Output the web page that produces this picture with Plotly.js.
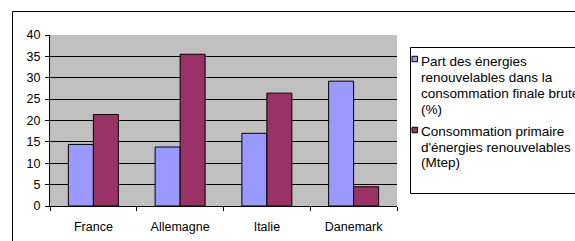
<!DOCTYPE html>
<html>
<head>
<meta charset="utf-8">
<script src="https://cdn.plot.ly/plotly-3.0.1.min.js"></script>
<style>html,body{margin:0;padding:0;background:#fff;}#chart{width:575px;height:241px;}</style>
</head>
<body>
<div id="chart"></div>
<script>
const categories = ["France", "Allemagne", "Italie", "Danemark"];
const partRenouvelables = [14.4, 13.8, 17.0, 29.2];
const consoPrimaire = [21.4, 35.5, 26.4, 4.5];
const seriesNames = ["Part des énergies renouvelables dans la consommation finale brute (%)",
                     "Consommation primaire d'énergies renouvelables (Mtep)"];
const legendLines = [
  ["Part des énergies", "renouvelables dans la", "consommation finale brute", "(%)"],
  ["Consommation primaire", "d'énergies renouvelables", "(Mtep)"]
];
const yTicks = [0, 5, 10, 15, 20, 25, 30, 35, 40];
const colors = ["#9999FF", "#993366"];

const W = 575, H = 241;
const M = {l: 50, r: 178, t: 35, b: 35};
const PW = W - M.l - M.r, PH = H - M.t - M.b;
const px = x => (x - M.l) / PW;
const py = y => (H - M.b - y) / PH;
const font = "Liberation Sans, Arial, sans-serif";

const traces = [partRenouvelables, consoPrimaire].map((vals, i) => ({
  type: "bar", x: categories, y: vals, name: seriesNames[i],
  marker: {color: colors[i], line: {color: "#000", width: 1}},
  hoverinfo: "none"
}));

const shapes = [
  // outer chart border
  {type: "rect", xref: "paper", yref: "paper", x0: px(12.5), x1: px(640), y0: py(11.5), y1: py(280),
   line: {color: "#000", width: 1}, fillcolor: "rgba(0,0,0,0)"},
  // legend box
  {type: "rect", xref: "paper", yref: "paper", x0: px(410.5), x1: px(640), y0: py(47.5), y1: py(193.5),
   line: {color: "#000", width: 1}, fillcolor: "rgba(0,0,0,0)"}
];
const annotations = [];
const lineY = [[61, 77, 93, 109], [131, 147, 162.5]];
const squareY = [59, 130];
legendLines.forEach((lines, i) => {
  shapes.push({type: "rect", xref: "paper", yref: "paper",
    x0: px(412), x1: px(417.5), y0: py(squareY[i] - 2.75), y1: py(squareY[i] + 2.75),
    line: {color: "#000", width: 1}, fillcolor: colors[i]});
  lines.forEach((t, j) => {
    annotations.push({xref: "paper", yref: "paper", x: px(419), y: py(lineY[i][j]),
      xanchor: "left", yanchor: "middle", text: t, showarrow: false,
      font: {family: font, size: 13.5, color: "#000"}});
  });
});

const layout = {
  width: W, height: H,
  margin: M,
  paper_bgcolor: "#fff",
  plot_bgcolor: "#C0C0C0",
  showlegend: false,
  barmode: "group",
  bargap: 0.424,
  bargroupgap: 0,
  font: {family: font, size: 12, color: "#000"},
  xaxis: {
    type: "category",
    showline: true, linecolor: "#000", linewidth: 1,
    ticks: "outside", tickson: "boundaries", ticklen: 4, tickcolor: "#000",
    ticklabelstandoff: 9,
    showgrid: false, zeroline: false,
    tickfont: {family: font, size: 12.5, color: "#000"}
  },
  yaxis: {
    range: [0, 40], tickvals: yTicks, ticktext: yTicks.map(String),
    showline: true, linecolor: "#000", linewidth: 1,
    ticks: "outside", ticklen: 4, tickcolor: "#000",
    ticklabelstandoff: 2,
    showgrid: true, gridcolor: "#000", gridwidth: 1,
    zeroline: false,
    tickfont: {family: font, size: 12.5, color: "#000"}
  },
  shapes: shapes,
  annotations: annotations
};

Plotly.newPlot("chart", traces, layout, {displayModeBar: false, staticPlot: true});
</script>
</body>
</html>
